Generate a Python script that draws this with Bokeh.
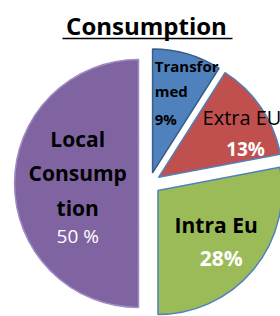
import numpy as np
from bokeh.plotting import figure
from bokeh.models import Range1d
from bokeh.embed import file_html
from bokeh.resources import INLINE
from bokeh.core.properties import value

# ---- data ----
title = "Consumption"
categories = ["Transformed", "Extra EU", "Intra Eu", "Local Consumption"]
values = [9, 13, 28, 50]
name_labels = ["Transfor\nmed", "Extra EU", "Intra Eu", "Local\nConsump\ntion"]
pct_labels = ["9%", "13%", "28%", "50 %"]

# ---- styles / layout ----
fill_colors = ["#4F81BD", "#C0504D", "#9BBB59", "#8064A2"]
line_colors = ["#385D8A", "#4F81BD", "#4F81BD", "#A08CC4"]
pct_colors = ["black", "white", "white", "white"]
FONT = "Open Sans"
W, H = 280, 316
R = 124.0          # pie radius (px)
EXPLODE = 11.0     # explode distance (px)
CX, CY = 149.0, H - 183.0   # pie centre (y up)
label_frac = [0.67, 0.77, 0.63, 0.49]
name_dx = [-21, -35, -2, 0]
name_dy = [-27, -6, -15, -45]      # first line centre, pixels below anchor
name_gap = [25, 0, 0, 34.5]        # line spacing
name_align = ["left", "left", "center", "center"]
name_size = ["15px", "20px", "21px", "21px"]
name_style = ["bold", "normal", "bold", "bold"]
pct_dx = [-21, 8, 3, 0]
pct_dy = [26, 25, 18, 52]
pct_align = ["left", "center", "center", "center"]
pct_size = ["15px", "19px", "21px", "19px"]
pct_style = ["bold", "bold", "bold", "normal"]

p = figure(width=W, height=H, x_range=Range1d(0, W), y_range=Range1d(0, H),
           output_backend="svg", toolbar_location=None, min_border=0)
p.axis.visible = False
p.grid.visible = False
p.outline_line_color = None

vals = np.array(values, dtype=float)
frac = vals / vals.sum()
end_cw = np.cumsum(frac) * 2 * np.pi
start_cw = end_cw - frac * 2 * np.pi
mid_cw = (start_cw + end_cw) / 2
bis = np.pi / 2 - mid_cw
xs = CX + EXPLODE * np.cos(bis)
ys = CY + EXPLODE * np.sin(bis)

p.wedge(x=xs, y=ys, radius=R, start_angle=np.pi / 2 - end_cw, end_angle=np.pi / 2 - start_cw,
        direction="anticlock", fill_color=fill_colors, line_color=line_colors, line_width=1.5)

for i in range(len(values)):
    ax = xs[i] + label_frac[i] * R * np.cos(bis[i])
    ay = ys[i] + label_frac[i] * R * np.sin(bis[i])
    for j, line in enumerate(name_labels[i].split("\n")):
        p.text(x=[ax + name_dx[i]], y=[ay - (name_dy[i] + j * name_gap[i])], text=[line],
               text_font=value(FONT), text_font_size=name_size[i], text_font_style=name_style[i],
               text_align=name_align[i], text_baseline="middle", text_color="black")
    p.text(x=[ax + pct_dx[i]], y=[ay - pct_dy[i]], text=[pct_labels[i]],
           text_font=value(FONT), text_font_size=pct_size[i], text_font_style=pct_style[i],
           text_align=pct_align[i], text_baseline="middle", text_color=pct_colors[i])

# title with underline
TX, TY = 146, H - 25
p.text(x=[TX], y=[TY], text=[title], text_font=value(FONT), text_font_size="24px",
       text_font_style="bold", text_align="center", text_baseline="middle", text_color="black")
p.line(x=[TX - 84, TX + 86], y=[TY - 13, TY - 13], line_color="black", line_width=1.5)

open("out.html", "w").write(file_html(p, INLINE))
